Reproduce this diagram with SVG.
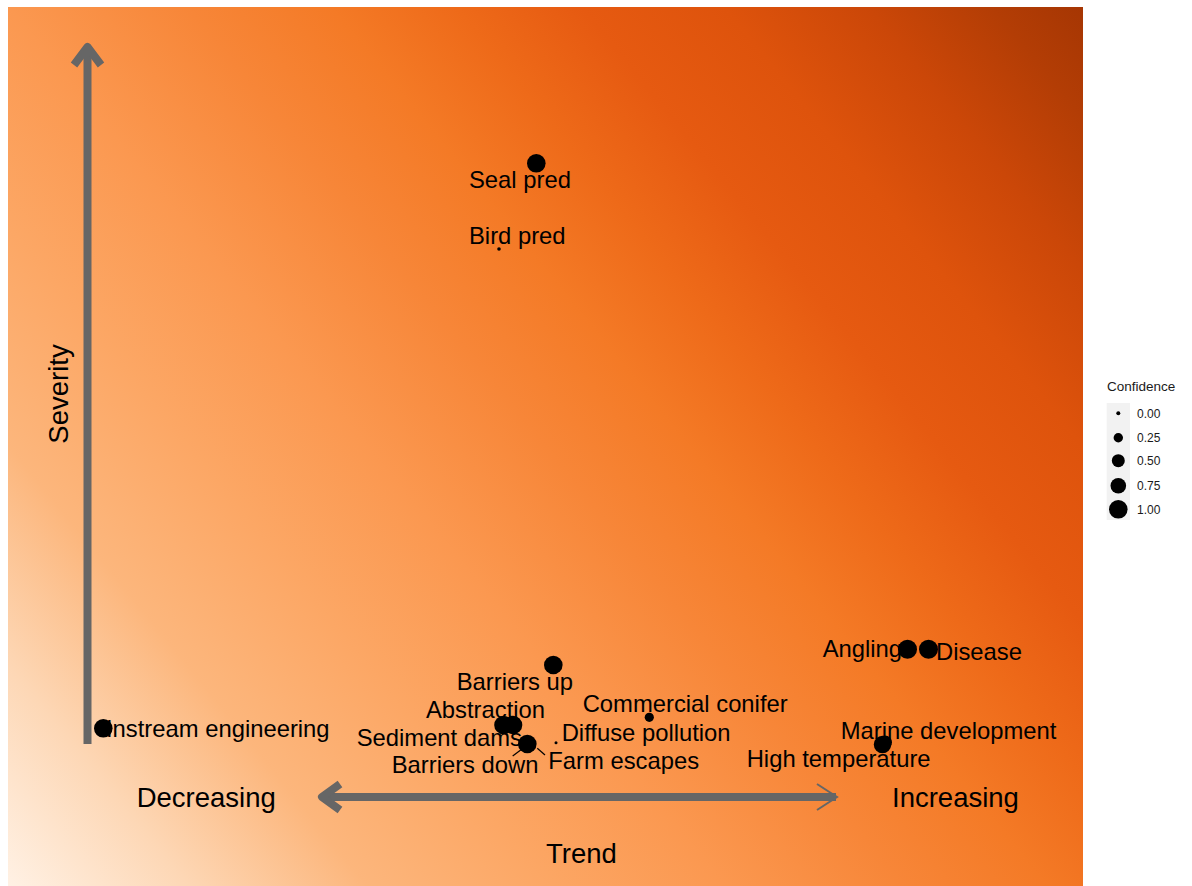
<svg xmlns="http://www.w3.org/2000/svg" width="1192" height="886" viewBox="0 0 1192 886">
<defs>
<linearGradient id="bg" gradientUnits="userSpaceOnUse" x1="8" y1="884" x2="1083" y2="8">
<stop offset="0" stop-color="#fff1e4"/>
<stop offset="0.1" stop-color="#fdd7b5"/>
<stop offset="0.2" stop-color="#fcb67c"/>
<stop offset="0.3" stop-color="#fca765"/>
<stop offset="0.4" stop-color="#fb9850"/>
<stop offset="0.5" stop-color="#f78638"/>
<stop offset="0.58" stop-color="#f47a26"/>
<stop offset="0.65" stop-color="#ee6a19"/>
<stop offset="0.72" stop-color="#e65a11"/>
<stop offset="0.8" stop-color="#de530c"/>
<stop offset="0.88" stop-color="#cb4708"/>
<stop offset="0.95" stop-color="#b33d05"/>
<stop offset="1" stop-color="#a63603"/>
</linearGradient>
<style>
.lbl{font-family:"Liberation Sans",Arial,sans-serif;font-size:23.8px;fill:#000}
.ax{font-family:"Liberation Sans",Arial,sans-serif;font-size:27.5px;fill:#000}
.lg{font-family:"Liberation Sans",Arial,sans-serif;font-size:12px;fill:#1a1a1a}
.arr{stroke:#666;stroke-width:8;fill:none}
.pt{fill:#000}
</style>
</defs>
<rect x="0" y="0" width="1192" height="886" fill="#fff"/>
<rect x="8" y="7" width="1075" height="879" fill="url(#bg)"/>
<g id="axes">
<line class="arr" x1="87.5" y1="744" x2="87.5" y2="48"/>
<polyline class="arr" points="74,65 87.5,47 101,65" stroke-linejoin="round"/>
<line class="arr" x1="324" y1="797" x2="836" y2="797"/>
<polyline class="arr" points="340,784 322,797 340,810" stroke-linejoin="round"/>
<polyline points="817,784 837,797 817,810" stroke="#666" stroke-width="2" fill="none"/>
</g>
<g id="connectors">
<line x1="512.7" y1="756" x2="522" y2="749" stroke="#000" stroke-width="1.2"/>
<line x1="537.3" y1="748.3" x2="545" y2="755" stroke="#000" stroke-width="1.2"/>
</g>
<g id="points">
<circle class="pt" cx="536.3" cy="163.3" r="9.3"/>
<circle class="pt" cx="499" cy="249" r="1.8"/>
<circle class="pt" cx="553.3" cy="665" r="9.3"/>
<circle class="pt" cx="503.5" cy="725" r="9.3"/>
<circle class="pt" cx="513" cy="725" r="9.3"/>
<circle class="pt" cx="649.3" cy="717.3" r="4.6"/>
<circle class="pt" cx="556" cy="742.7" r="1.5"/>
<circle class="pt" cx="527.3" cy="744" r="9.3"/>
<circle class="pt" cx="907.5" cy="649.3" r="9.5"/>
<circle class="pt" cx="928.5" cy="649.3" r="9.5"/>
<circle class="pt" cx="882.5" cy="744.5" r="8.7"/>
<circle class="pt" cx="885" cy="742.5" r="7"/>
<circle class="pt" cx="103.3" cy="728.3" r="9.3"/>
</g>
<g id="labels">
<text class="lbl" x="469" y="188">Seal pred</text>
<text class="lbl" x="469" y="244">Bird pred</text>
<text class="lbl" x="456.7" y="690">Barriers up</text>
<text class="lbl" x="426" y="717.5">Abstraction</text>
<text class="lbl" x="582.7" y="712">Commercial conifer</text>
<text class="lbl" x="356.7" y="746">Sediment dams</text>
<text class="lbl" x="561.7" y="741">Diffuse pollution</text>
<text class="lbl" x="391.7" y="773">Barriers down</text>
<text class="lbl" x="548.3" y="768.5">Farm escapes</text>
<text class="lbl" x="822.7" y="657">Angling</text>
<text class="lbl" x="936" y="660">Disease</text>
<text class="lbl" x="840.7" y="739">Marine development</text>
<text class="lbl" x="746.7" y="767">High temperature</text>
<text class="lbl" x="106" y="737.3">Instream engineering</text>
</g>
<g id="axis-titles">
<text class="ax" x="136.7" y="807.3">Decreasing</text>
<text class="ax" x="892" y="807.3">Increasing</text>
<text class="ax" x="581.5" y="863" text-anchor="middle">Trend</text>
<text class="ax" transform="translate(67.5,394) rotate(-90)" text-anchor="middle">Severity</text>
</g>
<g id="legend">
<text class="lg" x="1107" y="391" style="font-size:13.5px">Confidence</text>
<rect x="1106.7" y="403" width="23.3" height="117" fill="#f2f2f2"/>
<circle class="pt" cx="1118.3" cy="413.3" r="2"/>
<circle class="pt" cx="1118.3" cy="437.7" r="4.7"/>
<circle class="pt" cx="1118.3" cy="460.7" r="6.5"/>
<circle class="pt" cx="1118.3" cy="485.7" r="7.8"/>
<circle class="pt" cx="1118.3" cy="509.3" r="9.3"/>
<text class="lg" x="1137" y="417.5">0.00</text>
<text class="lg" x="1137" y="442">0.25</text>
<text class="lg" x="1137" y="465">0.50</text>
<text class="lg" x="1137" y="490">0.75</text>
<text class="lg" x="1137" y="513.5">1.00</text>
</g>
</svg>
